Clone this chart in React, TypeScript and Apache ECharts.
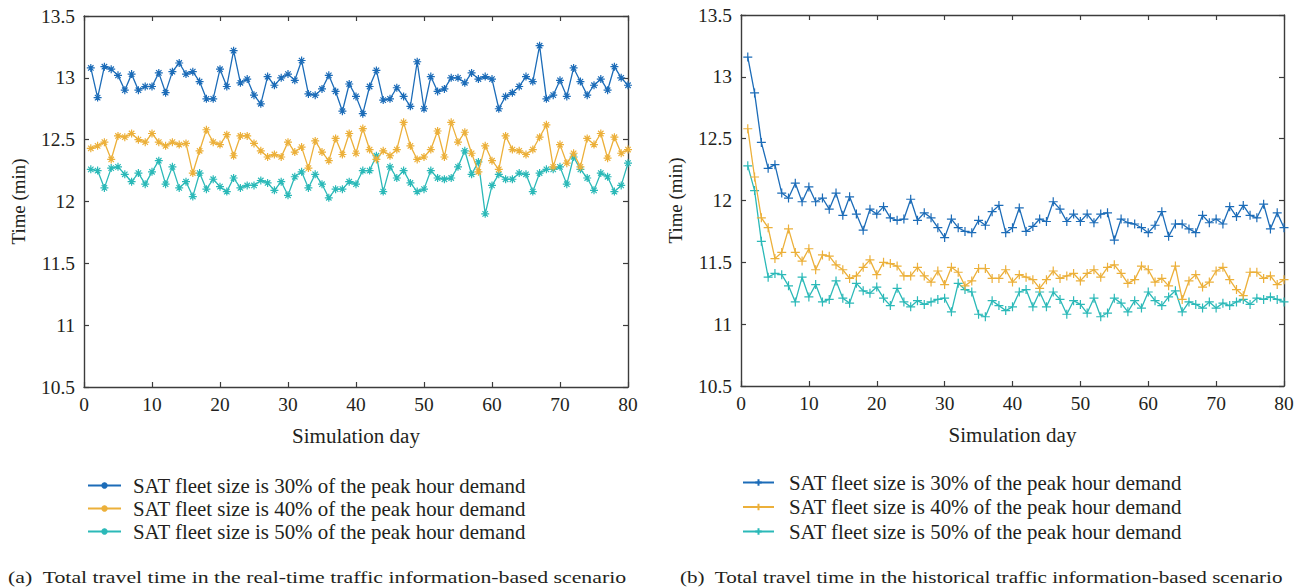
import React, { useEffect, useRef } from "react";
import * as echarts from "echarts";

const days = Array.from({ length: 80 }, (_, i) => i + 1);

const legendNames = [
  "SAT fleet size is 30% of the peak hour demand",
  "SAT fleet size is 40% of the peak hour demand",
  "SAT fleet size is 50% of the peak hour demand",
];

const captionA = "(a)  Total travel time in the real-time traffic information-based scenario";
const captionB = "(b)  Total travel time in the historical traffic information-based scenario";

// (a) real-time scenario
const rt30 = [
  13.08, 12.84, 13.09, 13.07, 13.02, 12.9, 13.03, 12.9, 12.93, 12.93,
  13.04, 12.88, 13.05, 13.12, 13.03, 13.05, 12.97, 12.83, 12.83, 13.07,
  12.93, 13.22, 12.96, 12.99, 12.86, 12.79, 13.01, 12.94, 13.0, 13.03,
  12.98, 13.14, 12.87, 12.86, 12.91, 13.02, 12.89, 12.73, 12.95, 12.85,
  12.71, 12.93, 13.06, 12.82, 12.83, 12.92, 12.85, 12.77, 13.13, 12.75,
  13.01, 12.89, 12.91, 13.0, 13.0, 12.96, 13.04, 12.99, 13.01, 12.99,
  12.75, 12.85, 12.88, 12.93, 13.01, 12.97, 13.26, 12.83, 12.86, 12.98,
  12.85, 13.08, 12.97, 12.86, 12.94, 12.99, 12.9, 13.09, 13.0, 12.94,
];
const rt40 = [
  12.43, 12.45, 12.48, 12.34, 12.53, 12.52, 12.55, 12.5, 12.48, 12.55,
  12.48, 12.45, 12.48, 12.46, 12.47, 12.23, 12.41, 12.58, 12.48, 12.46,
  12.54, 12.37, 12.53, 12.53, 12.47, 12.41, 12.36, 12.38, 12.36, 12.48,
  12.4, 12.44, 12.27, 12.49, 12.4, 12.33, 12.51, 12.38, 12.55, 12.39,
  12.59, 12.42, 12.34, 12.41, 12.37, 12.42, 12.64, 12.45, 12.34, 12.36,
  12.42, 12.57, 12.36, 12.64, 12.48, 12.56, 12.39, 12.24, 12.45, 12.33,
  12.26, 12.53, 12.42, 12.41, 12.38, 12.42, 12.52, 12.62, 12.28, 12.46,
  12.31, 12.39, 12.28, 12.51, 12.46, 12.55, 12.35, 12.52, 12.39, 12.42,
];
const rt50 = [
  12.26, 12.25, 12.11, 12.27, 12.28, 12.22, 12.16, 12.23, 12.14, 12.24,
  12.33, 12.14, 12.28, 12.11, 12.16, 12.04, 12.23, 12.1, 12.18, 12.12,
  12.08, 12.19, 12.11, 12.13, 12.13, 12.17, 12.15, 12.09, 12.16, 12.05,
  12.2, 12.24, 12.11, 12.22, 12.14, 12.03, 12.1, 12.1, 12.16, 12.14,
  12.25, 12.25, 12.37, 12.08, 12.28, 12.19, 12.25, 12.15, 12.08, 12.1,
  12.25, 12.19, 12.18, 12.19, 12.28, 12.41, 12.22, 12.32, 11.9, 12.13,
  12.22, 12.18, 12.18, 12.23, 12.22, 12.08, 12.23, 12.26, 12.26, 12.28,
  12.14, 12.36, 12.26, 12.19, 12.09, 12.23, 12.2, 12.08, 12.13, 12.31,
];

// (b) historical scenario
const h30 = [
  13.16, 12.87, 12.47, 12.26, 12.29, 12.06, 12.02, 12.14, 11.99, 12.11,
  11.99, 12.02, 11.93, 12.06, 11.88, 12.03, 11.89, 11.76, 11.93, 11.89,
  11.95, 11.86, 11.84, 11.85, 12.01, 11.84, 11.9, 11.86, 11.78, 11.7,
  11.85, 11.78, 11.75, 11.74, 11.84, 11.8, 11.91, 11.96, 11.74, 11.78,
  11.94, 11.75, 11.79, 11.85, 11.83, 11.99, 11.93, 11.83, 11.89, 11.83,
  11.89, 11.82, 11.89, 11.9, 11.68, 11.85, 11.82, 11.81, 11.78, 11.74,
  11.8, 11.91, 11.71, 11.81, 11.81, 11.77, 11.74, 11.88, 11.82, 11.85,
  11.81, 11.95, 11.87, 11.96, 11.88, 11.86, 11.97, 11.77, 11.9, 11.78,
];
const h40 = [
  12.58, 12.19, 11.86, 11.78, 11.53, 11.58, 11.77, 11.58, 11.51, 11.61,
  11.44, 11.56, 11.55, 11.48, 11.44, 11.37, 11.39, 11.46, 11.52, 11.4,
  11.5, 11.49, 11.47, 11.39, 11.39, 11.46, 11.39, 11.34, 11.43, 11.32,
  11.46, 11.42, 11.31, 11.35, 11.45, 11.45, 11.37, 11.37, 11.44, 11.34,
  11.4, 11.38, 11.36, 11.29, 11.36, 11.43, 11.37, 11.39, 11.41, 11.35,
  11.41, 11.44, 11.38, 11.46, 11.48, 11.41, 11.33, 11.36, 11.47, 11.44,
  11.34, 11.37, 11.31, 11.47, 11.2, 11.35, 11.4, 11.3, 11.34, 11.43,
  11.46, 11.36, 11.28, 11.23, 11.42, 11.42, 11.37, 11.39, 11.32, 11.36,
];
const h50 = [
  12.28, 12.08, 11.67, 11.38, 11.41, 11.4, 11.31, 11.18, 11.38, 11.22,
  11.32, 11.18, 11.2, 11.35, 11.21, 11.17, 11.33, 11.27, 11.25, 11.3,
  11.21, 11.15, 11.29, 11.18, 11.14, 11.19, 11.16, 11.18, 11.2, 11.21,
  11.1, 11.33, 11.28, 11.26, 11.08, 11.06, 11.19, 11.15, 11.11, 11.14,
  11.26, 11.28, 11.14, 11.26, 11.14, 11.26, 11.2, 11.08, 11.19, 11.16,
  11.09, 11.21, 11.06, 11.09, 11.21, 11.17, 11.1, 11.19, 11.13, 11.26,
  11.19, 11.15, 11.22, 11.27, 11.1, 11.18, 11.16, 11.13, 11.18, 11.13,
  11.17, 11.15, 11.18, 11.2, 11.16, 11.21, 11.2, 11.22, 11.2, 11.18,
];

const COLORS = ["#1c6cb8", "#ecb03a", "#2bb9b8"];
const FONT = "'Liberation Serif', 'Times New Roman', serif";
const AXIS_COLOR = "#3c3c3c";
const TEXT_COLOR = "#231f20";

const ASTERISK = "path://M5,0L5,10M0,5L10,5M1.6,1.6L8.4,8.4M1.6,8.4L8.4,1.6";
const PLUS = "path://M5,0L5,10M0,5L10,5";

function measure(text: string, size: number) {
  const c = document.createElement("canvas").getContext("2d");
  if (!c) return text.length * size * 0.45;
  c.font = `${size}px ${FONT}`;
  return c.measureText(text).width;
}

export default function App() {
  const ref = useRef<HTMLDivElement>(null);

  useEffect(() => {
    if (!ref.current) return;
    const chart = echarts.init(ref.current, null, { renderer: "svg" });

    const tickSize = (19 * 34) / measure("13.5", 19);
    const legendSize = (18 * 393) / measure(legendNames[0], 18);
    const xNameSize = (18 * 128) / measure("Simulation day", 18);
    const yNameSize = (18 * 86) / measure("Time (min)", 18);
    const capSize = 17;
    const capScaleA = 619 / measure(captionA, capSize);
    const capScaleB = 603 / measure(captionB, capSize);

    const grids = [
      { left: 84, top: 16, width: 544, height: 371 },
      { left: 741, top: 15, width: 543, height: 371 },
    ];

    const lineStyle = { color: AXIS_COLOR, width: 1.4 };
    const tickStyle = { color: AXIS_COLOR, width: 1.2 };

    const mkX = (g: number, main: boolean) => ({
      type: "value",
      gridIndex: g,
      min: 0,
      max: 80,
      interval: 10,
      position: main ? "bottom" : "top",
      axisLine: { show: true, onZero: false, lineStyle },
      axisTick: { show: true, inside: true, length: 5, lineStyle: tickStyle },
      axisLabel: main
        ? { show: true, margin: 8, fontFamily: FONT, fontSize: tickSize, color: TEXT_COLOR }
        : { show: false },
      splitLine: { show: false },
      name: main ? "Simulation day" : "",
      nameLocation: "middle",
      nameGap: 38,
      nameTextStyle: { fontFamily: FONT, fontSize: xNameSize, color: TEXT_COLOR },
    });
    const mkY = (g: number, main: boolean) => ({
      type: "value",
      gridIndex: g,
      min: 10.5,
      max: 13.5,
      interval: 0.5,
      position: main ? "left" : "right",
      axisLine: { show: true, onZero: false, lineStyle },
      axisTick: { show: true, inside: true, length: 5, lineStyle: tickStyle },
      axisLabel: main
        ? { show: true, margin: 9, fontFamily: FONT, fontSize: tickSize, color: TEXT_COLOR }
        : { show: false },
      splitLine: { show: false },
      name: main ? "Time (min)" : "",
      nameLocation: "middle",
      nameGap: 56,
      nameTextStyle: { fontFamily: FONT, fontSize: yNameSize, color: TEXT_COLOR },
    });

    const mkSeries = (g: number, idx: number, values: number[], name: string) => ({
      type: "line",
      name,
      xAxisIndex: g,
      yAxisIndex: g,
      data: days.map((d, i) => [d, values[i]]),
      symbol: g === 0 ? ASTERISK : PLUS,
      symbolSize: g === 0 ? 8 : 9,
      showSymbol: true,
      lineStyle: { color: COLORS[idx], width: 1.3 },
      itemStyle: { color: COLORS[idx], borderColor: COLORS[idx], borderWidth: 1.2 },
      emphasis: { disabled: true },
      z: 10 - idx,
    });

    const legendBase = {
      orient: "vertical",
      padding: 0,
      itemHeight: 8,
      selectedMode: false,
      textStyle: {
        fontFamily: FONT,
        fontSize: legendSize,
        color: TEXT_COLOR,
        lineHeight: 20,
      },
    };

    const rightNames = legendNames.map((n) => n + " ");

    chart.setOption({
      animation: false,
      backgroundColor: "#ffffff",
      grid: grids,
      xAxis: [mkX(0, true), mkX(1, true), mkX(0, false), mkX(1, false)],
      yAxis: [mkY(0, true), mkY(1, true), mkY(0, false), mkY(1, false)],
      legend: [
        {
          ...legendBase,
          left: 87,
          top: 475,
          itemWidth: 33,
          itemGap: 2,
          data: legendNames.map((n) => ({ name: n, textStyle: { padding: [0, 0, 0, 7] } })),
        },
        {
          ...legendBase,
          left: 742,
          top: 472,
          itemWidth: 31,
          itemGap: 3.5,
          data: rightNames.map((n) => ({ name: n, textStyle: { padding: [0, 0, 0, 10] } })),
        },
      ],
      series: [
        mkSeries(0, 0, rt30, legendNames[0]),
        mkSeries(0, 1, rt40, legendNames[1]),
        mkSeries(0, 2, rt50, legendNames[2]),
        mkSeries(1, 0, h30, rightNames[0]),
        mkSeries(1, 1, h40, rightNames[1]),
        mkSeries(1, 2, h50, rightNames[2]),
      ],
      graphic: [
        {
          type: "text",
          x: 8,
          y: 577,
          scaleX: capScaleA,
          style: {
            text: captionA,
            fontFamily: FONT,
            fontSize: capSize,
            fill: TEXT_COLOR,
            verticalAlign: "middle",
            align: "left",
          },
        },
        {
          type: "text",
          x: 680,
          y: 577,
          scaleX: capScaleB,
          style: {
            text: captionB,
            fontFamily: FONT,
            fontSize: capSize,
            fill: TEXT_COLOR,
            verticalAlign: "middle",
            align: "left",
          },
        },
      ],
    });

    return () => chart.dispose();
  }, []);

  return (
    <div
      ref={ref}
      style={{ position: "absolute", left: 0, top: 0, width: 1306, height: 588, background: "#fff" }}
    />
  );
}
